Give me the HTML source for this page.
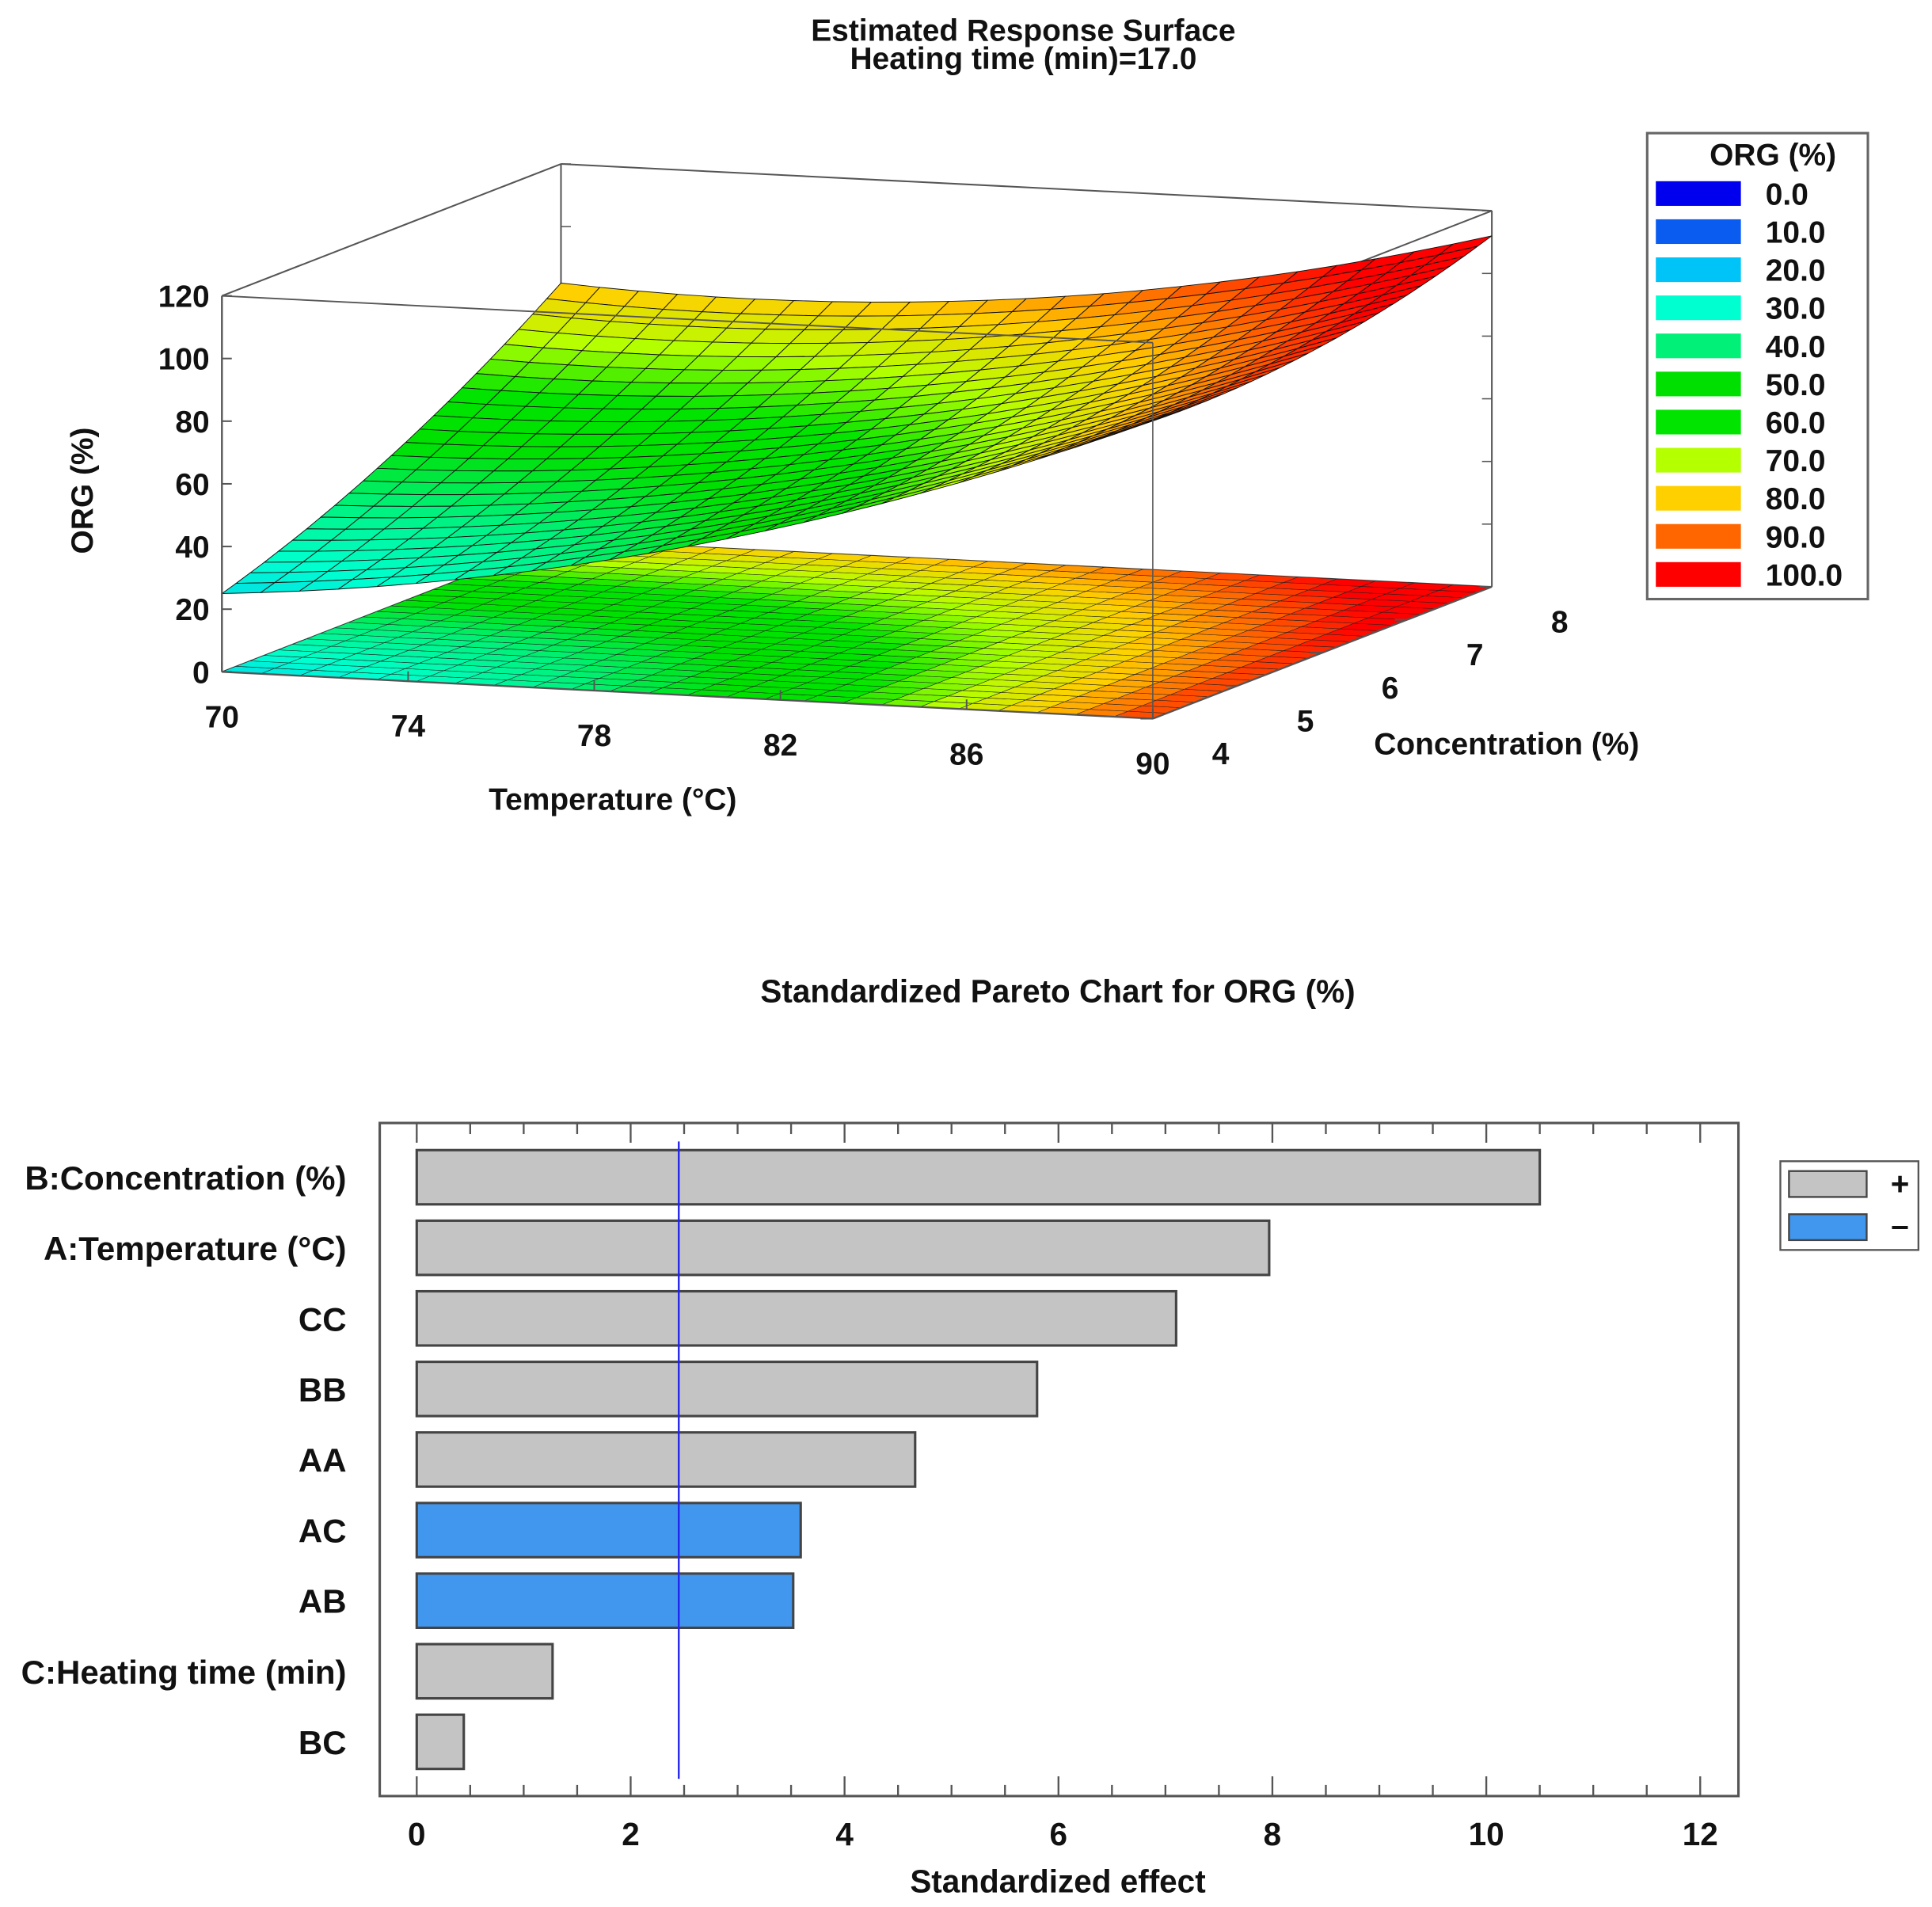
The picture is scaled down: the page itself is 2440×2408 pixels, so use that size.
<!DOCTYPE html>
<html><head><meta charset="utf-8"><style>
html,body{margin:0;padding:0;background:#fff;}
svg{display:block;}
text{font-family:"Liberation Sans",Arial,sans-serif;font-weight:bold;fill:#111;}
</style></head><body>
<svg id="fig" width="2440" height="2408" viewBox="0 0 1567 1547" preserveAspectRatio="none" xmlns="http://www.w3.org/2000/svg">
<rect x="0" y="0" width="1567" height="1547" fill="#fff"/>
<g id="surf">
<text x="830" y="33" font-size="25" text-anchor="middle">Estimated Response Surface</text>
<text x="830" y="56" font-size="25" text-anchor="middle">Heating time (min)=17.0</text>
</g>
<g id="pareto">
<text x="858" y="813" font-size="26" text-anchor="middle">Standardized Pareto Chart for ORG (%)</text>
<rect x="308" y="911" width="1102" height="546" fill="#fff" stroke="#555" stroke-width="2"/>
<text x="858" y="1535" font-size="26" text-anchor="middle">Standardized effect</text>
<g>
<rect x="1444" y="942" width="112" height="72" fill="#fff" stroke="#555" stroke-width="1.5"/>
<rect x="1451" y="950" width="63" height="21" fill="#c4c4c4" stroke="#444" stroke-width="1.5"/>
<text x="1541" y="969" font-size="26" text-anchor="middle">+</text>
<rect x="1451" y="985" width="63" height="21" fill="#4196ee" stroke="#444" stroke-width="1.5"/>
<text x="1541" y="1003" font-size="26" text-anchor="middle">–</text>
</g>
</g>
</svg>
<script>
// ---------- Pareto data ----------
const effectLabels = ["B:Concentration (%)","A:Temperature (°C)","CC","BB","AA","AC","AB","C:Heating time (min)","BC"];
const effectValues = [10.5,7.97,7.1,5.8,4.66,3.59,3.52,1.27,0.44];
const effectSigns = ["+","+","+","+","+","-","-","+","+"];
const xTicks = [0,2,4,6,8,10,12];
const refLine = 2.45;

// ---------- Surface data ----------
const tempTicks = [70,74,78,82,86,90];
const concTicks = [4,5,6,7,8];
const orgTicks = [0,20,40,60,80,100,120];
const legendLevels = [0,10,20,30,40,50,60,70,80,90,100];
const legendColors = ["#0000ee","#0a5cf0","#00c4f8","#00ffd0","#00f078","#00e000","#00e400","#b4ff00","#ffd000","#ff6600","#ff0000"];
// response model coefficients (coded a in [0,1] temp, b in [0,1] conc)
const modelCoef = [25,20,50,35,22,-40]; // const, a, a^2, b, b^2, ab

const NS="http://www.w3.org/2000/svg";
function mk(tag,attrs,parent){const e=document.createElementNS(NS,tag);for(const k in attrs)e.setAttribute(k,attrs[k]);parent.appendChild(e);return e;}

// ===== Pareto =====
const pg=document.getElementById('pareto');
const X0=338,X1=1379,XMAX=12;
function xs(v){return X0+(X1-X0)*v/XMAX;}
const rowTop=955,rowStep=57.25,barH=44;
for(let v=0;v<=12.001;v+=0.5){
  const major=Math.abs(v-Math.round(v/2)*2)<1e-6;
  const L=major?16:9;
  const t1=mk('line',{x1:xs(v),x2:xs(v),y1:911,y2:911+L,stroke:'#555','stroke-width':1.5},pg);
  
  
  const t2=mk('line',{x1:xs(v),x2:xs(v),y1:1457,y2:1457-L,stroke:'#555','stroke-width':1.5},pg);
  
  
}
xTicks.forEach(v=>{
  const t=mk('text',{x:xs(v),y:1497,'font-size':26,'text-anchor':'middle'},pg);
  t.textContent=String(v);
  
  
});
effectValues.forEach((v,i)=>{
  const cy=rowTop+i*rowStep;
  const r=mk('rect',{x:xs(0),y:cy-barH/2,width:xs(v)-xs(0),height:barH,fill:effectSigns[i]==='+'?'#c4c4c4':'#4196ee',stroke:'#444','stroke-width':2},pg);
  
  
  const t=mk('text',{x:281,y:cy+10,'font-size':27,'text-anchor':'end'},pg);
  t.textContent=effectLabels[i];
  
  
});
const rl=mk('line',{x1:xs(refLine),x2:xs(refLine),y1:926,y2:1443,stroke:'#2222ee','stroke-width':1.5},pg);



// ===== Surface =====
const sg=document.getElementById('surf');
const O=[180,545],U=[755,38],V=[275,-107],W=[0,-305];
function P(t,c,z){const a=(t-70)/20,b=(c-4)/4,w=z/120;return [O[0]+U[0]*a+V[0]*b+W[0]*w,O[1]+U[1]*a+V[1]*b+W[1]*w];}
function f(a,b){const k=modelCoef;return k[0]+k[1]*a+k[2]*a*a+k[3]*b+k[4]*b*b+k[5]*a*b;}
function hex(h){return [parseInt(h.substr(1,2),16),parseInt(h.substr(3,2),16),parseInt(h.substr(5,2),16)];}
function col(z){
  z=Math.max(0,Math.min(100,z));
  const i=Math.min(9,Math.floor(z/10)),fr=(z-legendLevels[i])/10;
  const c1=hex(legendColors[i]),c2=hex(legendColors[i+1]);
  return 'rgb('+c1.map((v,j)=>Math.round(v+(c2[j]-v)*fr)).join(',')+')';
}
function pts(arr){return arr.map(p=>p[0].toFixed(1)+','+p[1].toFixed(1)).join(' ');}
function line(p,q,name,w){const l=mk('line',{x1:p[0],y1:p[1],x2:q[0],y2:q[1],stroke:'#555','stroke-width':w||1.3},sg);return l;}
line(P(70,8,0),P(70,8,120),'box-edge-back-left');
line(P(90,8,0),P(90,8,120),'box-edge-back-right');
line(P(70,4,120),P(70,8,120),'box-edge-top-left');
line(P(70,8,120),P(90,8,120),'box-edge-top-back');
line(P(90,4,120),P(90,8,120),'box-edge-top-right');
line(P(70,4,0),P(70,8,0),'box-edge-floor-left',1);
line(P(70,8,0),P(90,8,0),'box-edge-floor-back',1);
orgTicks.forEach(z=>{
  const a=P(70,8,z),b=P(90,8,z);
  line([a[0],a[1]],[a[0]+8,a[1]],'z-tick-back',1);
  line([b[0],b[1]],[b[0]-8,b[1]],'z-tick-back',1);
});
const N=24;
for(let i=0;i<N;i++)for(let j=0;j<N;j++){
  const a0=i/N,a1=(i+1)/N,b0=j/N,b1=(j+1)/N;
  const q=[P(70+20*a0,4+4*b0,0),P(70+20*a1,4+4*b0,0),P(70+20*a1,4+4*b1,0),P(70+20*a0,4+4*b1,0)];
  const p=mk('polygon',{points:pts(q),fill:col(f((a0+a1)/2,(b0+b1)/2)),stroke:'#222','stroke-width':0.35},sg);
  
  
}
for(let j=N-1;j>=0;j--)for(let i=0;i<N;i++){
  const a0=i/N,a1=(i+1)/N,b0=j/N,b1=(j+1)/N;
  const q=[P(70+20*a0,4+4*b0,f(a0,b0)),P(70+20*a1,4+4*b0,f(a1,b0)),P(70+20*a1,4+4*b1,f(a1,b1)),P(70+20*a0,4+4*b1,f(a0,b1))];
  const p=mk('polygon',{points:pts(q),fill:col(f((a0+a1)/2,(b0+b1)/2)),stroke:'#111','stroke-width':0.6},sg);
  
  
}
line(P(70,4,0),P(70,4,120),'z-axis-line',1.5);
line(P(70,4,0),P(90,4,0),'temperature-axis-line',1.5);
line(P(90,4,0),P(90,8,0),'concentration-axis-line',1.5);
line(P(70,4,120),P(90,4,120),'box-edge-top-front',1.2);
line(P(90,4,0),P(90,4,120),'box-edge-front-right',1);
orgTicks.forEach(z=>{
  const p=P(70,4,z);
  line(p,[p[0]+8,p[1]],'z-tick',1.3);
  const t=mk('text',{x:p[0]-10,y:p[1]+9,'font-size':25,'text-anchor':'end'},sg);
  t.textContent=String(z);
  
  
});
tempTicks.forEach(v=>{
  const p=P(v,4,0);
  line(p,[p[0],p[1]-8],'temperature-tick',1.3);
  const t=mk('text',{x:p[0],y:p[1]+45,'font-size':25,'text-anchor':'middle'},sg);
  t.textContent=String(v);
  
  
});
concTicks.forEach(v=>{
  const p=P(90,v,0);
  line(p,[p[0]-10,p[1]],'concentration-tick',1.3);
  const t=mk('text',{x:p[0]+55,y:p[1]+37,'font-size':25,'text-anchor':'middle'},sg);
  t.textContent=String(v);
  
  
});
let t=mk('text',{x:497,y:657,'font-size':25,'text-anchor':'middle'},sg);t.textContent='Temperature (°C)';


t=mk('text',{x:1222,y:612,'font-size':25,'text-anchor':'middle'},sg);t.textContent='Concentration (%)';


t=mk('text',{x:0,y:0,'font-size':25,'text-anchor':'middle',transform:'translate(75,398) rotate(-90)'},sg);t.textContent='ORG (%)';


const lg=mk('g',{},sg);


const lb=mk('rect',{x:1336,y:108,width:179,height:378,fill:'#fff',stroke:'#666','stroke-width':2},lg);


t=mk('text',{x:1438,y:134,'font-size':25,'text-anchor':'middle'},lg);t.textContent='ORG (%)';


legendLevels.forEach((v,i)=>{
  const cy=157+i*30.9;
  const r=mk('rect',{x:1343,y:cy-10,width:69,height:20,fill:legendColors[i]},lg);
  
  
  const tx=mk('text',{x:1432,y:cy+9,'font-size':25},lg);
  tx.textContent=v.toFixed(1);
  
  
});
</script>
</body></html>
